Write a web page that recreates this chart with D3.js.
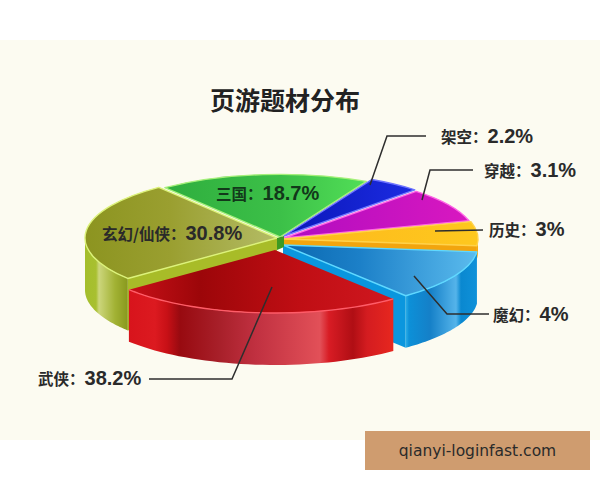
<!DOCTYPE html>
<html><head><meta charset="utf-8">
<script src="https://cdn.jsdelivr.net/npm/d3@7"></script>
<style>html,body{margin:0;padding:0;background:#fff}svg{display:block}</style>
</head><body><svg id="c" width="600" height="480"></svg>
<script>
const categories = ["三国","架空","穿越","历史","魔幻","武侠","玄幻/仙侠"];
const labelValues = [18.7,2.2,3.1,3,4,38.2,30.8];
// The drawn wedges in the picture are not proportional to the printed numbers: estimated sweep
const drawnSweep = [65.5,16,31,21.5,45,90,91];

const K = 0.335, DEPTH = 52;
const layout = {
 "三国":{cx:280,cy:237,r:187,top:[[167,"#2fae3e"],[280,"#3cc048"],[360,"#50dc56"]],edge:"#a6f07a",label:[216,194,"#12381a"]},
 "架空":{cx:284,cy:236,r:190,top:[[285,"#0a16b8"],[407,"#1b2be0"]],edge:"#6e74ff",
   label:[441,137,"#2a2a2a"],leader:[[370,185],[387,136],[426,136]]},
 "穿越":{cx:284,cy:238,r:192,top:[[284,"#b00cc0"],[466,"#d818c0"]],edge:"#ff66e6",
   label:[484,171,"#2a2a2a"],leader:[[422,200],[430,170],[473,170]]},
 "历史":{cx:284,cy:239,r:194,top:[[284,"#fdb81c"],[478,"#fec81e"]],edge:"#ffd24a",side:[[284,"#f0a010"],[478,"#f5ab12"]],depth:13,
   cut:"#f2a50e",cutAt:"end",
   label:[489,230,"#2a2a2a"],leader:[[435,231],[483,230]]},
 "魔幻":{cx:283,cy:245,r:195,top:[[283,"#0a68b0"],[360,"#1c80c8"],[478,"#5cbcee"]],edge:"#5fd8ff",
   side:[[403,"#45c8f5"],[409,"#0c90d8"],[430,"#1580c8"],[456,"#55b4ea"],[461,"#0a88d0"],[478,"#1092da"]],cut:"#0a96de",cutAt:"end",
   label:[493,315,"#2a2a2a"],leader:[[414,276],[447,314],[489,314]]},
 "武侠":{cx:275,cy:250,r:188,top:[[130,"#c81018"],[200,"#9c0609"],[300,"#c00e14"],[395,"#d01820"]],rim:"#ff5c68",
   side:[[130,"#d8141c"],[155,"#dc1a20"],[167,"#c81016"],[180,"#980a10"],[220,"#a8202a"],[255,"#c03040"],[320,"#e25058"],[329,"#d81c24"],[353,"#b00e14"],[367,"#d41c20"],[395,"#e8281f"]],
   label:[38,379,"#2a2a2a"],leader:[[272,287],[232,379],[149,379]]},
 "玄幻/仙侠":{cx:277,cy:238,r:192,top:[[85,"#8c9420"],[170,"#9a9f30"],[277,"#b4bc66"]],edge:"#dcf27a",
   side:[[85,"#a4be2c"],[96,"#a8c030"],[99,"#ccd67c"],[115,"#a2b234"],[133,"#7e8e14"]],
   cut:"#a8bc28",cutAt:"start",label:[102,234,"#2a2a2a"]}
};
const drawOrder = ["玄幻/仙侠","三国","架空","穿越","历史","魔幻","武侠"];

const svg = d3.select("#c"), defs = svg.append("defs");
svg.append("rect").attr("x",0).attr("y",40).attr("width",600).attr("height",400).attr("fill","#fcfbf1");

const rad = d=>d*Math.PI/180;
const pie = d3.pie().sort(null).value(d=>d.sweep).startAngle(rad(-38)).endAngle(rad(322));
const slices = pie(categories.map((c,i)=>({name:c,value:labelValues[i],sweep:drawnSweep[i]})));
const byName = new Map(slices.map(s=>[s.data.name,s]));

function gradient(id,stops,shift=0){
  const xs = stops.map(s=>s[0]), x0=d3.min(xs), x1=d3.max(xs);
  const off = d3.scaleLinear().domain([x0,x1]).range([0,1]);
  const g = defs.append("linearGradient").attr("id",id).attr("gradientUnits","userSpaceOnUse")
    .attr("x1",x0-shift).attr("x2",x1-shift).attr("y1",0).attr("y2",0);
  stops.forEach(s=>g.append("stop").attr("offset",off(s[0])).attr("stop-color",s[1]));
  return `url(#${id})`;
}
const px = (l,a,dy=0)=>[l.cx+l.r*Math.sin(a), l.cy-l.r*K*Math.cos(a)+dy];
const line = d3.line();

drawOrder.forEach((name,idx)=>{
  const s = byName.get(name), l = layout[name], g = svg.append("g");
  const depth = l.depth||DEPTH;
  if(l.cut){
    const p = px(l, l.cutAt==="end" ? s.endAngle : s.startAngle);
    g.append("path").attr("d",line([[l.cx,l.cy],p,[p[0],p[1]+depth],[l.cx,l.cy+depth]])+"Z").attr("fill",l.cut);
  }
  if(l.side){
    const a0 = Math.max(s.startAngle,rad(90)), a1 = Math.min(s.endAngle,rad(270));
    const as = d3.range(0,41).map(i=>a0+(a1-a0)*i/40);
    const pts = as.map(a=>px(l,a)).concat(as.slice().reverse().map(a=>px(l,a,depth)));
    g.append("path").attr("d",line(pts)+"Z").attr("fill",gradient("side"+idx,l.side));
  }
  const arc = d3.arc().innerRadius(0).outerRadius(l.r);
  g.append("path").attr("d",arc(s))
    .attr("transform",`translate(${l.cx},${l.cy}) scale(1,${K})`)
    .attr("fill",gradient("top"+idx,l.top,l.cx))
    .attr("stroke",l.edge||"none").attr("stroke-width",1.4)
    .attr("stroke-linejoin","round").attr("vector-effect","non-scaling-stroke");
  if(l.rim){
    const as = d3.range(0,41).map(i=>s.startAngle+(s.endAngle-s.startAngle)*i/40);
    g.append("path").attr("d",line(as.map(a=>px(l,a)))).attr("fill","none").attr("stroke",l.rim).attr("stroke-width",1.4);
  }
});
// hub sliver where the wedges meet
svg.append("path").attr("d",line([[277,238],[284,236],[284,247],[277,250]])+"Z").attr("fill","#3c9a22");

// leaders
categories.forEach(name=>{
  const l = layout[name];
  if(l.leader) svg.append("path").attr("d",line(l.leader)).attr("fill","none").attr("stroke","#2e2e2e").attr("stroke-width",1.5);
});

// title and labels
svg.append("text").attr("x",285).attr("y",110).attr("text-anchor","middle")
  .attr("font-family","'Noto Sans CJK SC'").attr("font-weight",700).attr("font-size",25).attr("fill","#222").text("页游题材分布");
slices.forEach(s=>{
  const l = layout[s.data.name].label;
  const t = svg.append("text").attr("x",l[0]).attr("y",l[1]+6).attr("fill",l[2]);
  t.append("tspan").attr("font-family","'Noto Sans CJK SC'").attr("font-weight",700).attr("font-size",15.5).text(s.data.name+"：");
  t.append("tspan").attr("font-family","'Liberation Sans'").attr("font-weight",700).attr("font-size",20).text(s.data.value+"%");
});

// footer tag
svg.append("rect").attr("x",365).attr("y",431).attr("width",225).attr("height",39).attr("fill","#cf9c6f");
svg.append("text").attr("x",477.5).attr("y",455.5).attr("text-anchor","middle")
  .attr("font-family","'DejaVu Sans'").attr("font-size",15.5).attr("fill","#2a2a2a").text("qianyi-loginfast.com");
</script></body></html>
